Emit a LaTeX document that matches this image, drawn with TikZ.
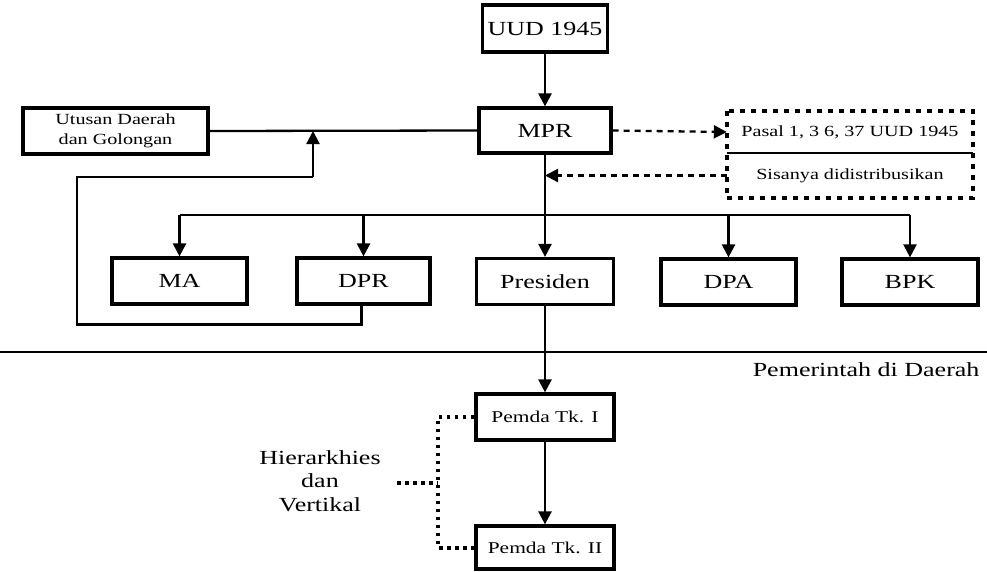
\documentclass[tikz,border=0pt]{standalone}
\usepackage{fontspec}
\setmainfont{Liberation Serif}[FakeStretch=1.3]
\usetikzlibrary{arrows.meta}

\tikzset{
	kotak/.style={draw, line width=3.2pt, inner sep=0pt, minimum height=46,
		font=\fontsize{20}{24}\selectfont},
	garis/.style={line width=2.3pt},
	panah/.style={line width=2.3pt, -{Triangle[length=13pt,width=13pt]}},
	putus/.style={line width=2.6pt, dash pattern=on 6pt off 5pt},
	titik/.style={line width=4pt, dash pattern=on 3.5pt off 4.5pt},
	bingkai/.style={line width=3.5pt, dash pattern=on 5pt off 6pt}
}

\begin{document}
\begin{tikzpicture}[x=1pt, y=-1pt]
		\useasboundingbox (0,0) rectangle (987,571);
		% pusat
		\node[kotak, minimum width=125, minimum height=47] (uud) at (545,28.5) {UUD 1945};
		\node[kotak, minimum width=132, minimum height=45] (mpr) at (545,130.5) {MPR};
		\node[kotak, minimum width=185, align=center, font=\fontsize{15.5}{20}\selectfont]
		(utusan) at (115.5,131) {Utusan Daerah\\dan Golongan};
		\node[kotak, minimum width=135] (ma) at (179.5,281) {MA};
		\node[kotak, minimum width=133] (dpr) at (363.5,281) {DPR};
		\node[kotak, minimum width=137] (presiden) at (545,281.5) {Presiden};
		\node[kotak, minimum width=135] (dpa) at (728.5,282) {DPA};
		\node[kotak, minimum width=136] (bpk) at (910,282) {BPK};
		% kotak pasal
		\node[minimum width=246, minimum height=42, inner sep=0pt,
		font=\fontsize{15.5}{20}\selectfont] (pasal) at (850,132) {Pasal 1, 3 6, 37 UUD 1945};
		\node[minimum width=246, minimum height=45, inner sep=0pt,
		font=\fontsize{15.5}{20}\selectfont] (sisa) at (850,175.5) {Sisanya didistribusikan};
		\draw[bingkai] (pasal.north west) rectangle (sisa.south east);
		\draw[garis] (pasal.south west) -- (pasal.south east);
		% daerah
		\node[anchor=east, font=\fontsize{20}{24}\selectfont] (daerah) at (983,370) {Pemerintah di Daerah};
		\node[kotak, minimum width=138, font=\fontsize{16.5}{20}\selectfont] (pemda1) at (545,417) {Pemda Tk. I};
		\node[kotak, minimum width=138, minimum height=43, font=\fontsize{16.5}{20}\selectfont] (pemda2) at (545,547.5) {Pemda Tk. II};
		\node[align=center, font=\fontsize{20}{23.5}\selectfont] (hier) at (320,481) {Hierarkhies\\dan\\Vertikal};

		\coordinate (cabang) at (0,215);
		\coordinate (umpan) at (313,177);
		\coordinate (kurung) at (438,483);

		\draw[panah] (uud.south) -- (mpr.north);
		\draw[garis] (utusan.east) -- (mpr.west);
		\draw[panah] (mpr.south) -- (presiden.north);
		\draw[garis] (ma.north |- cabang) -- (bpk.north |- cabang);
		\foreach \n in {ma,dpr,dpa,bpk}
		\draw[panah] (\n.north |- cabang) -- (\n.north);
		\draw[garis] ([xshift=-2pt]dpr.south) -- ++(0,19) -| (77,177) -- (umpan);
		\draw[panah] (umpan) -- (umpan |- utusan.east);
		\draw[putus, panah] (mpr.east) -- (pasal.west);
		\draw[putus, panah] (sisa.west) -- (sisa.west -| mpr.south);

		\draw[garis] (0,352) -- (987,352);
		\draw[panah] (presiden.south) -- (pemda1.north);
		\draw[panah] (pemda1.south) -- (pemda2.north);
		\draw[titik] (pemda1.west) -| (kurung) |- (pemda2.west);
		\draw[titik] (397,483) -- (kurung);
	\end{tikzpicture}
\end{document}
